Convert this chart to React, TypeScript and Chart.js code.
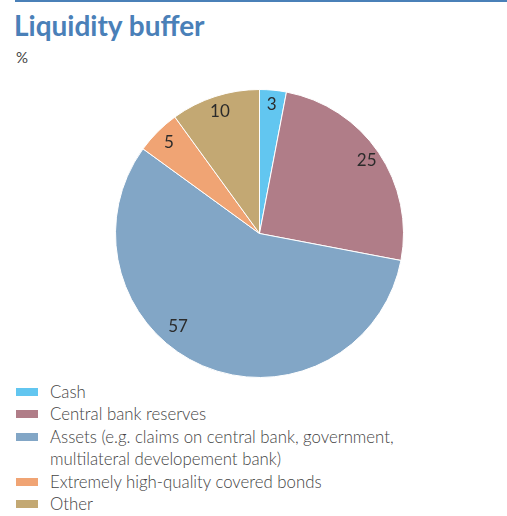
import React, { useEffect, useRef } from "react";
import { Chart, registerables } from "chart.js";

Chart.register(...registerables);

const categories = [
  "Cash",
  "Central bank reserves",
  "Assets (e.g. claims on central bank, government, multilateral developement bank)",
  "Extremely high-quality covered bonds",
  "Other",
];
const legendLines = [
  ["Cash"],
  ["Central bank reserves"],
  ["Assets (e.g. claims on central bank, government,", "multilateral developement bank)"],
  ["Extremely high-quality covered bonds"],
  ["Other"],
];
const values = [3, 25, 57, 5, 10];
const colors = ["#62c6f0", "#b07d88", "#82a6c6", "#f0a474", "#c3a873"];

const labelPlugin = {
  id: "sliceLabels",
  afterDatasetsDraw(chart: any) {
    const ctx = chart.ctx;
    const meta = chart.getDatasetMeta(0);
    // per-slice angular shift (radians) and radius factor for label placement
    const shift = [0, 0, 0.31, 0, 0];
    const rf = [0.9, 0.9, 0.86, 0.89, 0.89];
    ctx.save();
    ctx.fillStyle = "#2b2b2b";
    ctx.font = "17px Lato, 'Open Sans', sans-serif";
    ctx.textAlign = "center";
    ctx.textBaseline = "middle";
    meta.data.forEach((arc: any, i: number) => {
      const { x, y, startAngle, endAngle, outerRadius } = arc.getProps(
        ["x", "y", "startAngle", "endAngle", "outerRadius"],
        true
      );
      const mid = (startAngle + endAngle) / 2 + shift[i];
      const r = outerRadius * rf[i];
      ctx.fillText(String(values[i]), x + Math.cos(mid) * r, y + Math.sin(mid) * r);
    });
    ctx.restore();
  },
};

export default function App() {
  const ref = useRef<HTMLCanvasElement>(null);
  useEffect(() => {
    if (!ref.current) return;
    const chart = new Chart(ref.current, {
      type: "pie",
      data: {
        labels: categories,
        datasets: [
          {
            data: values,
            backgroundColor: colors,
            borderColor: "#ffffff",
            borderWidth: 1,
          },
        ],
      },
      options: {
        animation: false,
        responsive: false,
        maintainAspectRatio: false,
        layout: { padding: 0 },
        plugins: { legend: { display: false }, tooltip: { enabled: false } },
      },
      plugins: [labelPlugin],
    });
    return () => chart.destroy();
  }, []);

  const font = "Lato, 'Open Sans', sans-serif";
  return (
    <div
      style={{
        position: "absolute",
        left: 0,
        top: 0,
        width: 507,
        height: 516,
        background: "#fff",
        fontFamily: font,
        overflow: "hidden",
      }}
    >
      <div
        style={{ position: "absolute", left: 15, top: 0, width: 492, height: 2, background: "#4a80b8" }}
      />
      <div
        style={{
          position: "absolute",
          left: 14,
          top: 9,
          fontSize: 28,
          fontWeight: 700,
          color: "#4a80b8",
          lineHeight: "32px",
          whiteSpace: "nowrap",
        }}
      >
        Liquidity buffer
      </div>
      <div
        style={{ position: "absolute", left: 16, top: 48, fontSize: 15, color: "#444", lineHeight: "18px" }}
      >
        %
      </div>
      <canvas
        ref={ref}
        width={289}
        height={289}
        style={{ position: "absolute", left: 115, top: 89, width: 289, height: 289 }}
      />
      <div style={{ position: "absolute", left: 0, top: 381 }}>
        {legendLines.map((lines, i) =>
          lines.map((line, j) => (
            <div
              key={i + "-" + j}
              style={{
                position: "relative",
                height: 22.4,
                lineHeight: "22.4px",
                fontSize: 16.8,
                color: "#444",
                fontWeight: 300,
                whiteSpace: "nowrap",
              }}
            >
              {j === 0 && (
                <span
                  style={{
                    position: "absolute",
                    left: 16,
                    top: 7,
                    width: 22,
                    height: 8,
                    background: colors[i],
                  }}
                />
              )}
              <span style={{ position: "absolute", left: 50, top: 0 }}>{line}</span>
            </div>
          ))
        )}
      </div>
    </div>
  );
}
